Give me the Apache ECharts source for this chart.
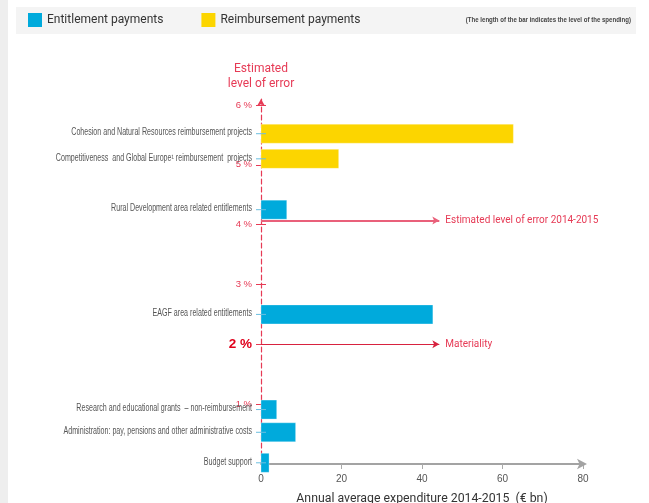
<!DOCTYPE html>
<html><head><meta charset="utf-8">
<script src="https://cdn.jsdelivr.net/npm/echarts@6/dist/echarts.min.js"></script>
<style>html,body{margin:0;padding:0;background:#fff}#c{width:649px;height:503px}</style>
</head><body><div id="c"></div>
<script>
// ---- data ----
const categories = [
  'Cohesion and Natural Resources reimbursement projects',
  'Competitiveness  and Global Europe\u00B9 reimbursement  projects',
  'Rural Development area related entitlements',
  'EAGF area related entitlements',
  'Research and educational grants  \u2013 non-reimbursement',
  'Administration: pay, pensions and other administrative costs',
  'Budget support'
];
const spending   = [62.7, 19.3, 6.4, 42.7, 3.9, 8.6, 2.0];      // € bn (x)
const errorLevel = [5.52, 5.10, 4.25, 2.50, 0.91, 0.53, 0.02];  // % (y)
const paymentType = ['R', 'R', 'E', 'E', 'E', 'E', 'E'];
const seriesNames = { E: 'Entitlement payments', R: 'Reimbursement payments' };
const xTicks = [0, 20, 40, 60, 80];
const yTicks = [1, 2, 3, 4, 5, 6];
const estimatedError = 4.07;
const estimatedErrorLabel = 'Estimated level of error 2014-2015';
const materiality = 2;
const materialityLabel = 'Materiality';
const yAxisTitle = 'Estimated\nlevel of error';
const xAxisTitle = 'Annual average expenditure 2014-2015  (\u20AC bn)';
const noteText = '(The length of the bar indicates the level of the spending)';

// ---- styling ----
const BLUE = '#00aadc', YELLOW = '#fcd500', RED = '#e63a55', DARKRED = '#e0001b';
const NARROW = '"Liberation Sans", Arial, sans-serif';
const SANS = 'Roboto, "Noto Sans", sans-serif';

function buildData(t) {
  const out = [];
  categories.forEach((c, i) => { if (paymentType[i] === t) out.push([spending[i], errorLevel[i], i]); });
  return out;
}
function makeRender(color) {
  return function (params, api) {
    const v = api.value(0), e = api.value(1), idx = api.value(2);
    const p0 = api.coord([0, e]), p1 = api.coord([v, e]);
    const h = 19;
    return {
      type: 'group',
      children: [
        { type: 'rect', shape: { x: p0[0], y: p0[1] - h / 2, width: p1[0] - p0[0], height: h },
          style: { fill: color, stroke: 'rgba(255,255,255,0.6)', lineWidth: 0.5 } },
        { type: 'line', shape: { x1: p0[0] - 5, y1: p0[1], x2: p0[0] + 5, y2: p0[1] },
          style: { stroke: '#6bbfe0', lineWidth: 1 } },
        { type: 'text', x: p0[0] - 9, y: p0[1] - 1, scaleX: 0.71,
          style: { text: categories[idx], align: 'right', verticalAlign: 'middle',
                   fill: '#555', font: '10px ' + NARROW } }
      ]
    };
  };
}

const chart = echarts.init(document.getElementById('c'), null, { renderer: 'canvas' });
chart.setOption({
  animation: false,
  backgroundColor: '#fff',
  graphic: [
    { type: 'rect', z: -10, shape: { x: 0, y: 0, width: 8, height: 503 }, style: { fill: '#eeeeee' } },
    { type: 'rect', z: -10, shape: { x: 16, y: 7, width: 620, height: 27 }, style: { fill: '#f4f4f4' } },
    { type: 'text', z: 10, x: 631, y: 20, scaleX: 0.76,
      style: { text: noteText, fill: '#444', font: 'bold 8px ' + NARROW, align: 'right', verticalAlign: 'middle' } }
  ],
  legend: {
    data: [seriesNames.E, seriesNames.R],
    left: 28, top: 13, padding: 0, icon: 'rect', itemWidth: 14, itemHeight: 14, itemGap: 38,
    textStyle: { fontSize: 12, color: '#333', fontFamily: SANS },
    selectedMode: false
  },
  grid: { left: 261, right: 66, top: 99, bottom: 39, outerBoundsMode: 'none', containLabel: false },
  xAxis: {
    type: 'value', min: 0, max: 80, interval: 20,
    axisLine: { show: true, lineStyle: { color: '#a3a3a3', width: 2 },
                symbol: ['none', 'arrow'], symbolSize: [8, 10], symbolOffset: [0, 4] },
    axisTick: { show: true, length: 5, lineStyle: { color: '#aaa' }, customValues: xTicks },
    axisLabel: { color: '#555', fontSize: 10, fontFamily: NARROW, margin: 10, customValues: xTicks },
    splitLine: { show: false },
    name: xAxisTitle, nameLocation: 'middle', nameGap: 29,
    nameTextStyle: { color: '#333', fontSize: 12.3, fontFamily: SANS }
  },
  yAxis: [{
    type: 'value', min: 0, max: 6.1, position: 'left',
    axisLine: { show: true, onZero: false, symbol: ['none', 'arrow'], symbolSize: [6, 7],
                lineStyle: { color: RED, width: 1.2, type: [5, 3] } },
    axisTick: { show: true, length: 5, lineStyle: { color: RED }, customValues: yTicks },
    axisLabel: {
      margin: 9, customValues: yTicks,
      formatter: v => v === materiality ? '{b|' + v + ' %}' : '{a|' + v + ' %}',
      rich: {
        a: { color: RED, fontSize: 9.5, fontFamily: NARROW },
        b: { color: DARKRED, fontSize: 13.5, fontWeight: 'bold', fontFamily: NARROW }
      }
    },
    splitLine: { show: false },
    name: yAxisTitle, nameLocation: 'end', nameGap: 8,
    nameTextStyle: { color: RED, fontSize: 12, lineHeight: 15, fontFamily: SANS, align: 'center' }
  }, {
    type: 'value', min: 0, max: 6.1, position: 'left',
    axisLine: { show: false },
    axisTick: { show: true, inside: true, length: 5, lineStyle: { color: RED }, customValues: yTicks },
    axisLabel: { show: false },
    splitLine: { show: false }
  }],
  series: [
    { type: 'custom', name: seriesNames.R, itemStyle: { color: YELLOW }, renderItem: makeRender(YELLOW),
      data: buildData('R'), encode: { x: 0, y: 1 }, z: 3 },
    { type: 'custom', name: seriesNames.E, itemStyle: { color: BLUE }, renderItem: makeRender(BLUE),
      data: buildData('E'), encode: { x: 0, y: 1 }, z: 3 },
    { type: 'line', name: 'est', data: [], silent: true,
      markLine: { silent: true, symbol: ['none', 'arrow'], symbolSize: [6, 7],
        lineStyle: { color: '#e9607a', width: 2, type: 'solid' },
        label: { show: true, position: 'end', distance: 6, color: RED, fontSize: 10, fontFamily: SANS, formatter: estimatedErrorLabel },
        data: [[{ coord: [0, estimatedError] }, { coord: [44.3, estimatedError] }]] } },
    { type: 'line', name: 'mat', data: [], silent: true,
      markLine: { silent: true, symbol: ['none', 'arrow'], symbolSize: [6, 7],
        lineStyle: { color: '#d8223f', width: 1.2, type: 'solid' },
        label: { show: true, position: 'end', distance: 6, color: RED, fontSize: 10, fontFamily: SANS, formatter: materialityLabel },
        data: [[{ coord: [0, materiality] }, { coord: [44.3, materiality] }]] } }
  ]
});
</script>
</body></html>
